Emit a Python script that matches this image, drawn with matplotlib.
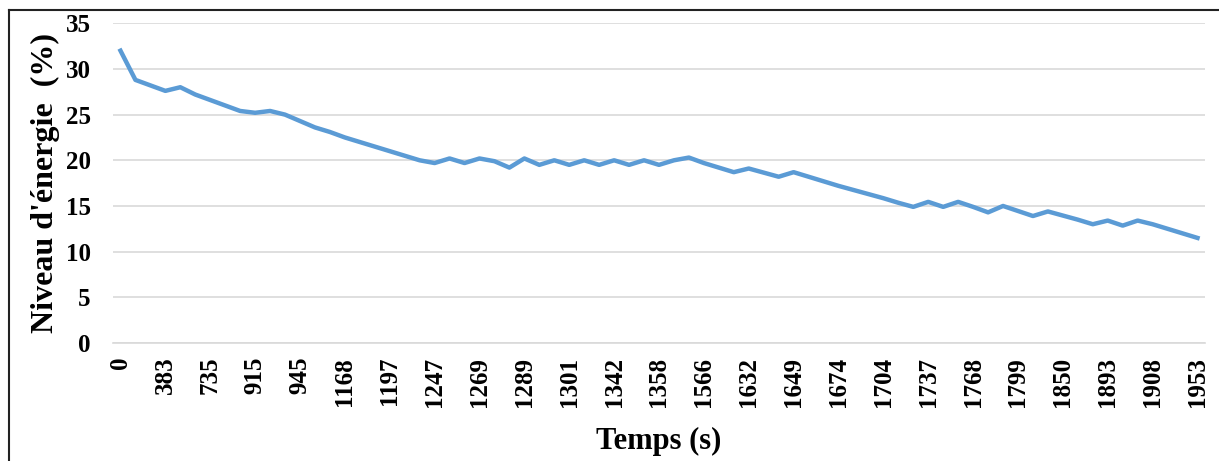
import numpy as np
import matplotlib
matplotlib.use("Agg")
import matplotlib.pyplot as plt
from matplotlib.lines import Line2D

# tick labels shown on the time axis (one every 3 samples)
time_labels = ["0", "383", "735", "915", "945", "1168", "1197", "1247", "1269",
               "1289", "1301", "1342", "1358", "1566", "1632", "1649", "1674",
               "1704", "1737", "1768", "1799", "1850", "1893", "1908", "1953"]

# energy level (%) for each sample
energy = [32.0, 28.8, 28.2, 27.6, 28.0, 27.2, 26.6, 26.0, 25.4, 25.2,
          25.4, 25.0, 24.3, 23.6, 23.1, 22.5, 22.0, 21.5, 21.0, 20.5,
          20.0, 19.7, 20.2, 19.7, 20.2, 19.9, 19.2, 20.2, 19.5, 20.0,
          19.5, 20.0, 19.5, 20.0, 19.5, 20.0, 19.5, 20.0, 20.3, 19.7,
          19.2, 18.7, 19.1, 18.65, 18.2, 18.7, 18.2, 17.7, 17.2, 16.75,
          16.3, 15.85, 15.35, 14.9, 15.45, 14.9, 15.45, 14.9, 14.3, 15.0,
          14.45, 13.9, 14.4, 13.95, 13.5, 13.0, 13.4, 12.85, 13.4, 13.0,
          12.5, 12.0, 11.5]

plt.rcParams['font.family'] = ['Liberation Serif', 'DejaVu Serif']
plt.rcParams['font.weight'] = 'bold'

fig = plt.figure(figsize=(12.19, 4.61), dpi=100)
ax = fig.add_axes([0.0927, 0.256, 0.8958, 0.6935])

idx = np.arange(len(energy))
ax.plot(idx, energy, color="#5B9BD5", linewidth=3.2, solid_joinstyle='round')

ax.set_xlim(-0.5, len(energy) - 0.5)
ax.set_ylim(0, 35)
ax.set_yticks(range(0, 36, 5))
ax.set_xticks(idx[::3])
ax.set_xticklabels(time_labels, rotation=90, fontsize=18, fontweight='bold')
ax.tick_params(axis='y', labelsize=18, length=0, pad=16)
ax.tick_params(axis='x', length=0, pad=10)
for lab in ax.get_yticklabels():
    lab.set_fontweight('bold')

ax.grid(axis='y', color='#D9D9D9', linewidth=1.2)
ax.set_axisbelow(True)
for s in ['top', 'right', 'left']:
    ax.spines[s].set_visible(False)
ax.spines['bottom'].set_color('#D9D9D9')
ax.spines['bottom'].set_linewidth(1.2)

ax.set_xlabel("Temps (s)", fontsize=22, fontweight='bold', labelpad=14)
ax.set_ylabel("Niveau d'énergie  (%)", fontsize=23, fontweight='bold', labelpad=4)

# frame around the figure (only top and left visible in the original)
fig.add_artist(Line2D([0.0075, 1.0], [0.978, 0.978], transform=fig.transFigure,
                      color='#222222', linewidth=1.5))
fig.add_artist(Line2D([0.0075, 0.0075], [0.0, 0.978], transform=fig.transFigure,
                      color='#222222', linewidth=1.5))

fig.savefig("out.png", dpi=100)
